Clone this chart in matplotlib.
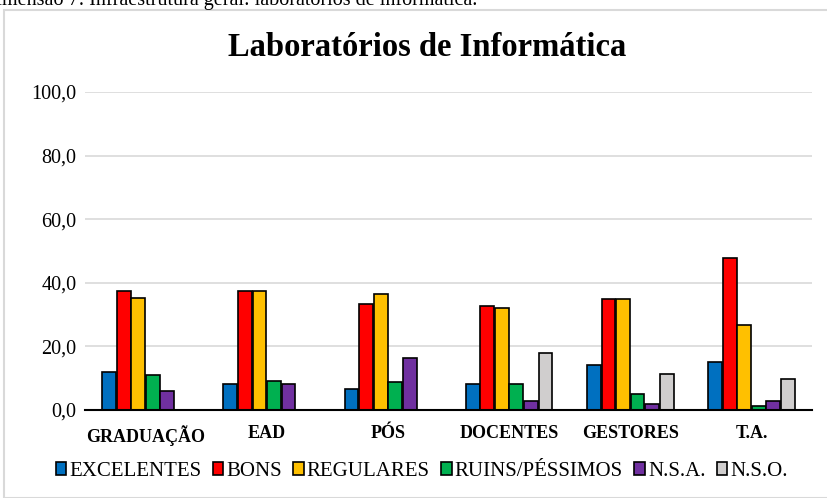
import matplotlib
matplotlib.use("Agg")
import matplotlib.pyplot as plt
import numpy as np
from matplotlib.patches import Rectangle

# data
categorias = ["GRADUAÇÃO", "EAD", "PÓS", "DOCENTES", "GESTORES", "T.A."]
series = ["EXCELENTES", "BONS", "REGULARES", "RUINS/PÉSSIMOS", "N.S.A.", "N.S.O."]
excelentes = [12.0, 8.2, 6.6, 8.2, 14.2, 15.2]
bons = [37.5, 37.5, 33.2, 32.7, 34.8, 47.8]
regulares = [35.3, 37.5, 36.4, 32.0, 34.8, 26.6]
ruins = [10.9, 9.2, 8.7, 8.2, 5.0, 1.3]
nsa = [6.1, 8.2, 16.4, 2.7, 1.8, 2.8]
nso = [0.0, 0.0, 0.0, 18.0, 11.4, 9.8]
cores = ["#0070c0", "#ff0000", "#ffc000", "#00b050", "#7030a0", "#d0cece"]
yticks = [0, 20, 40, 60, 80, 100]

plt.rcParams["font.family"] = ["Liberation Serif", "DejaVu Serif"]

fig = plt.figure(figsize=(8.27, 4.98), dpi=100)
ax = fig.add_axes([85 / 827, 88 / 498, 727 / 827, 318 / 498])

valores = [excelentes, bons, regulares, ruins, nsa, nso]
x = np.arange(len(categorias))
largura = 0.12
for i, (nome, vals, cor) in enumerate(zip(series, valores, cores)):
    pos = x + (i - 2.5) * largura
    ax.bar(pos, vals, largura * 0.95, color=cor, edgecolor="black", linewidth=1.2,
           label=nome, zorder=3)

ax.set_xlim(-0.5, len(categorias) - 0.5)
ax.set_ylim(0, 100)
ax.set_yticks(yticks)
ax.set_yticklabels([f"{v:.1f}".replace(".", ",") for v in yticks], fontsize=14.5)
ax.set_xticks(x)
ax.set_xticklabels(categorias, fontsize=13, fontweight="bold")
ax.tick_params(axis="y", length=0, pad=6)
ax.tick_params(axis="x", length=0, pad=11)
ax.grid(axis="y", color="#d9d9d9", linewidth=1.2, zorder=0)
for lado in ["top", "right", "left"]:
    ax.spines[lado].set_visible(False)
ax.spines["bottom"].set_linewidth(1.5)
ax.spines["bottom"].set_zorder(4)

fig.text(0.517, 1 - 47 / 498, "Laboratórios de Informática", ha="center", va="center",
         fontsize=23.5, fontweight="bold")

# chart frame and cut-off caption above it
fig.patches.append(Rectangle((4 / 827, 0), 1, 1 - 10 / 498, transform=fig.transFigure,
                             fill=False, edgecolor="#d9d9d9", linewidth=1.5))
fig.text(477 / 827, 1 - 4.5 / 498, "Dimensão 7: Infraestrutura geral: laboratórios de informática.",
         ha="right", va="baseline", fontsize=14.5)

fig.legend(loc="center", bbox_to_anchor=(0.51, 1 - 471 / 498), ncol=6, fontsize=15,
           frameon=False, handlelength=0.5, handleheight=0.6, handletextpad=0.15,
           columnspacing=0.55)

fig.savefig("out.png", dpi=100)
